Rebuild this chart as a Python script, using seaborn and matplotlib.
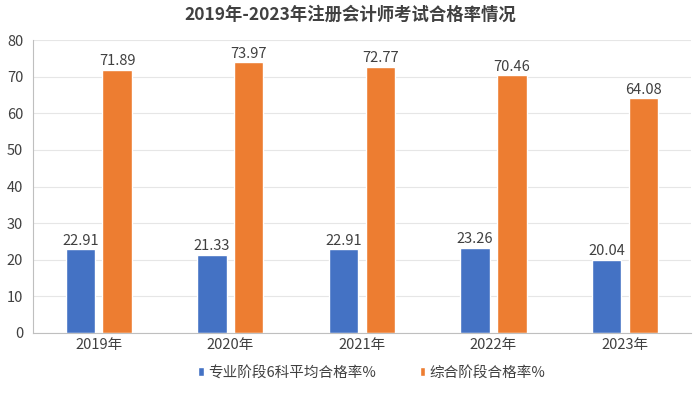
import matplotlib
matplotlib.use("Agg")
import matplotlib.pyplot as plt
import seaborn as sns
import pandas as pd

years = ["2019年", "2020年", "2021年", "2022年", "2023年"]
series_names = ["专业阶段6科平均合格率%", "综合阶段合格率%"]
professional = [22.91, 21.33, 22.91, 23.26, 20.04]
comprehensive = [71.89, 73.97, 72.77, 70.46, 64.08]
colors = ["#4472C4", "#ED7D31"]

df = pd.DataFrame({
    "year": years * 2,
    "series": [series_names[0]] * len(years) + [series_names[1]] * len(years),
    "value": professional + comprehensive,
})

sns.set_theme(style="white")
plt.rcParams["font.family"] = ["Noto Sans CJK SC", "DejaVu Sans"]

fig = plt.figure(figsize=(7, 3.94), dpi=100)
ax = fig.add_axes([0.047, 0.155, 0.94, 0.743])

sns.barplot(data=df, x="year", y="value", hue="series", palette=colors,
            width=0.56, gap=0.2, ax=ax, saturation=1, errorbar=None)

for cont in ax.containers:
    ax.bar_label(cont, fmt="%.2f", padding=1, fontsize=10.5, color="#404040")

ax.set_ylim(0, 80)
ax.set_yticks(range(0, 81, 10))
ax.set_xlim(-0.5, 4.5)
ax.yaxis.grid(True, color="#E6E6E6", linewidth=0.8)
ax.set_axisbelow(True)
ax.set_xlabel("")
ax.set_ylabel("")
for s in ["top", "right"]:
    ax.spines[s].set_visible(False)
for s in ["left", "bottom"]:
    ax.spines[s].set_color("#BFBFBF")
    ax.spines[s].set_linewidth(0.8)
ax.tick_params(axis="both", labelsize=10.5, colors="#404040", length=0, pad=4)
ax.tick_params(axis="y", length=3, color="#BFBFBF")

ax.legend(loc="upper center", bbox_to_anchor=(0.515, -0.068), ncol=2, frameon=False,
          fontsize=10.5, handlelength=0.4, handleheight=0.6, handletextpad=0.3,
          columnspacing=3.0, labelcolor="#404040")

fig.suptitle("2019年-2023年注册会计师考试合格率情况", y=0.985, fontsize=12.5,
             fontweight="bold", color="#404040")

fig.savefig("out.png", dpi=100)
